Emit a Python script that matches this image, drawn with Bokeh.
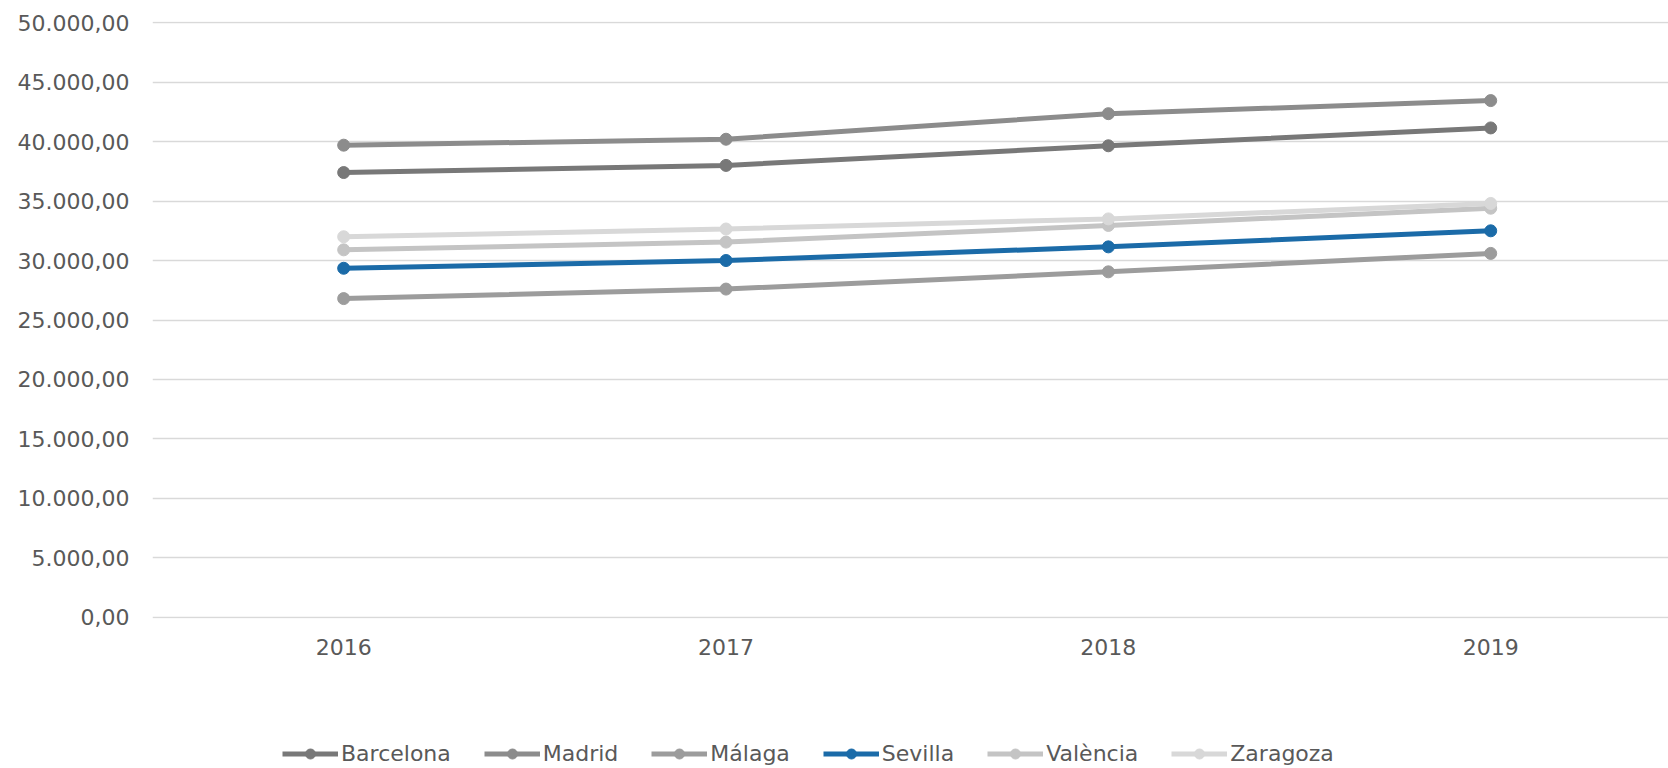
from bokeh.plotting import figure
from bokeh.layouts import column
from bokeh.models import Range1d, FixedTicker, Legend, LegendItem
from bokeh.embed import file_html
from bokeh.resources import INLINE

years = [2016, 2017, 2018, 2019]
year_labels = ["2016", "2017", "2018", "2019"]
barcelona = [37400, 38000, 39650, 41150]
madrid = [39700, 40200, 42350, 43450]
malaga = [26800, 27600, 29050, 30600]
sevilla = [29350, 30000, 31150, 32500]
valencia = [30900, 31550, 32950, 34400]
zaragoza = [32000, 32650, 33500, 34800]
series_names = ["Barcelona", "Madrid", "Málaga", "Sevilla", "València", "Zaragoza"]
series_values = [barcelona, madrid, malaga, sevilla, valencia, zaragoza]
colors = ["#787878", "#8c8c8c", "#9c9c9c", "#1b6ba8", "#c4c4c4", "#d8d8d8"]

y_ticks = [0, 5000, 10000, 15000, 20000, 25000, 30000, 35000, 40000, 45000, 50000]
y_tick_labels = ["0,00", "5.000,00", "10.000,00", "15.000,00", "20.000,00", "25.000,00",
                 "30.000,00", "35.000,00", "40.000,00", "45.000,00", "50.000,00"]

FONT = "DejaVu Sans"
TXT = "#595959"
W = 1668

p = figure(x_range=Range1d(2015.5, 2019.465), y_range=Range1d(-100, 50100),
           width=W, height=680, output_backend="svg", toolbar_location=None,
           min_border_left=152, min_border_right=0, min_border_top=21, min_border_bottom=62)
p.outline_line_color = None
p.background_fill_color = "white"
p.border_fill_color = "white"

for name, vals, c in zip(series_names, series_values, colors):
    p.line(years, vals, line_color=c, line_width=5)
    p.scatter(years, vals, size=12, fill_color=c, line_color=c)

p.xgrid.grid_line_color = None
p.ygrid.grid_line_color = "#d9d9d9"
p.ygrid.grid_line_width = 1.5

p.xaxis.ticker = FixedTicker(ticks=years)
p.xaxis.major_label_overrides = {t: l for t, l in zip(years, year_labels)}
p.yaxis.ticker = FixedTicker(ticks=y_ticks)
p.yaxis.major_label_overrides = {t: l for t, l in zip(y_ticks, y_tick_labels)}
for ax in (p.xaxis, p.yaxis):
    ax.axis_line_color = None
    ax.major_tick_line_color = None
    ax.minor_tick_line_color = None
    ax.major_label_text_font = FONT
    ax.major_label_text_font_size = "22px"
    ax.major_label_text_color = TXT
p.yaxis.major_label_standoff = 17
p.xaxis.major_label_standoff = 14

# legend strip below the chart
lg = figure(x_range=Range1d(0, 1), y_range=Range1d(0, 1), width=W, height=88,
            output_backend="svg", toolbar_location=None, min_border=0)
lg.axis.visible = False
lg.grid.visible = False
lg.outline_line_color = None
lg.background_fill_color = "white"
lg.border_fill_color = "white"
items = []
for name, vals, c in zip(series_names, series_values, colors):
    r1 = lg.line(years, vals, line_color=c, line_width=5)
    r2 = lg.scatter(years, vals, size=12, fill_color=c, line_color=c)
    items.append(LegendItem(label=name, renderers=[r1, r2]))
legend = Legend(items=items, orientation="horizontal", location=(130, 2),
                label_text_font=FONT, label_text_font_size="22px", label_text_color=TXT,
                glyph_width=56, glyph_height=25, label_standoff=3, spacing=33,
                border_line_color=None, background_fill_alpha=0, margin=0, padding=0)
lg.add_layout(legend)

layout = column(p, lg, spacing=0)
open("out.html", "w").write(file_html(layout, INLINE))
